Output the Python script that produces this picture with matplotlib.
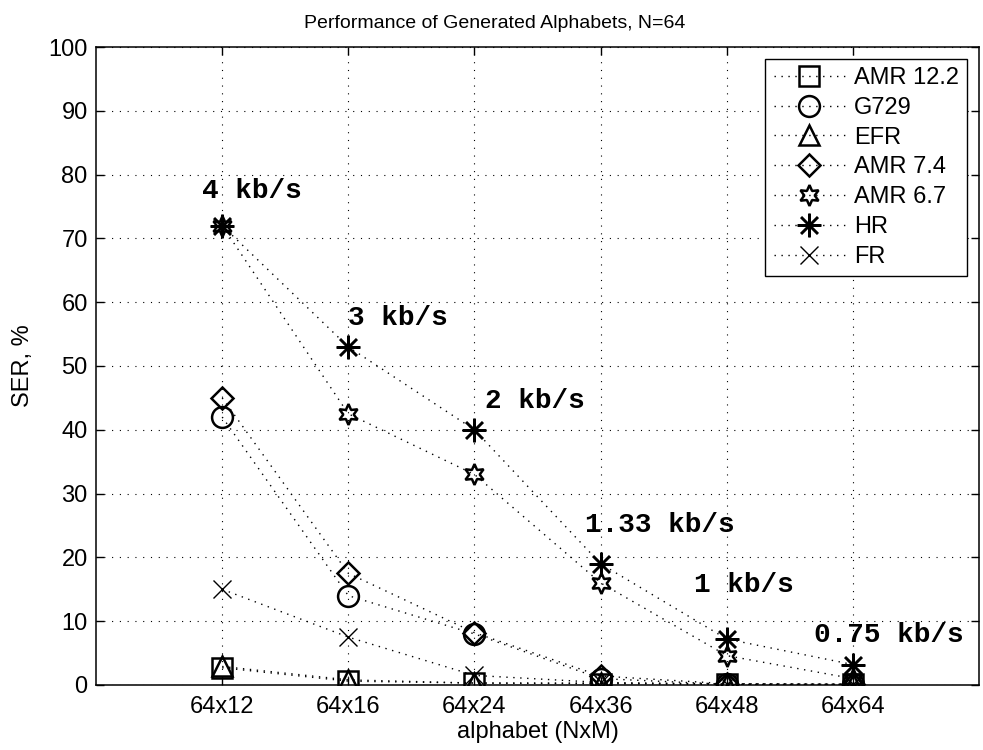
import numpy as np
import matplotlib
matplotlib.use('Agg')
import matplotlib.pyplot as plt

plt.rcParams['font.family'] = ['Liberation Sans', 'DejaVu Sans']

# data
alphabets = ['64x12', '64x16', '64x24', '64x36', '64x48', '64x64']
amr122 = [2.7, 0.6, 0.3, 0.2, 0.1, 0.1]
g729 = [42, 14, 8, 1.0, 0.1, 0.1]
efr = [2.9, 0.8, 0.3, 0.3, 0.2, 0.1]
amr74 = [45, 17.5, 8.2, 1.4, 0.2, 0.1]
amr67 = [72, 42.5, 33, 16, 4.6, 1.0]
hr = [72, 53, 40, 19, 7.2, 3.2]
fr = [15, 7.5, 1.5, 0.4, 0.1, 0.1]

rates = ['4 kb/s', '3 kb/s', '2 kb/s', '1.33 kb/s', '1 kb/s', '0.75 kb/s']
rate_y = [77.5, 57.5, 44.5, 25, 15.7, 7.8]

x = np.arange(1, len(alphabets) + 1)

fig = plt.figure(figsize=(9.83, 7.5), dpi=100)
ax = fig.add_axes([0.0977, 0.0867, 0.8983, 0.8506])

ls = (0, (1, 4))
series = [
    (amr122, 's', 'AMR 12.2', 14),
    (g729, 'o', 'G729', 15),
    (efr, '^', 'EFR', 14),
    (amr74, 'D', 'AMR 7.4', 11),
    (amr67, (6, 1, 0), 'AMR 6.7', 15),
    (hr, (8, 2, 0), 'HR', 17),
    (fr, 'x', 'FR', 13),
]
for vals, mk, lab, ms in series:
    mew = 1.0 if mk == 'x' else 1.8
    ax.plot(x, vals, linestyle=ls, color='black', linewidth=1.0,
            marker=mk, markersize=ms, markerfacecolor='none',
            markeredgecolor='black', markeredgewidth=mew, label=lab)

# bitrate labels
rate_x = [0.84, 2.0, 3.08, 3.88, 4.74, 5.69]
for tx, ty, t in zip(rate_x, rate_y, rates):
    ax.text(tx, ty, t, family='Liberation Mono', fontweight='bold',
            fontsize=20, va='center', ha='left')

ax.set_xlim(0, 7)
ax.set_ylim(0, 100)
ax.set_xticks(x)
ax.set_xticklabels(alphabets)
ax.set_yticks(np.arange(0, 101, 10))
ax.tick_params(direction='in', top=True, right=True, labelsize=17,
               length=6, width=1, pad=6)
ax.tick_params(axis='x', pad=8)
ax.grid(True, color='black', linestyle=(0, (1, 6)), linewidth=0.8)
for s in ax.spines.values():
    s.set_linewidth(1.1)

ax.set_title('Performance of Generated Alphabets, N=64', fontsize=14,
             pad=14, x=0.452)
ax.set_xlabel('alphabet (NxM)', fontsize=17, labelpad=2)
ax.set_ylabel('SER, %', fontsize=17, labelpad=10)

leg = ax.legend(loc='upper right', fontsize=17, fancybox=False,
                edgecolor='black', framealpha=1, handlelength=3.0,
                labelspacing=0.33, borderpad=0.35, handletextpad=0.4,
                borderaxespad=0.5)
leg.get_frame().set_linewidth(1.0)

fig.savefig('out.png', dpi=100)
